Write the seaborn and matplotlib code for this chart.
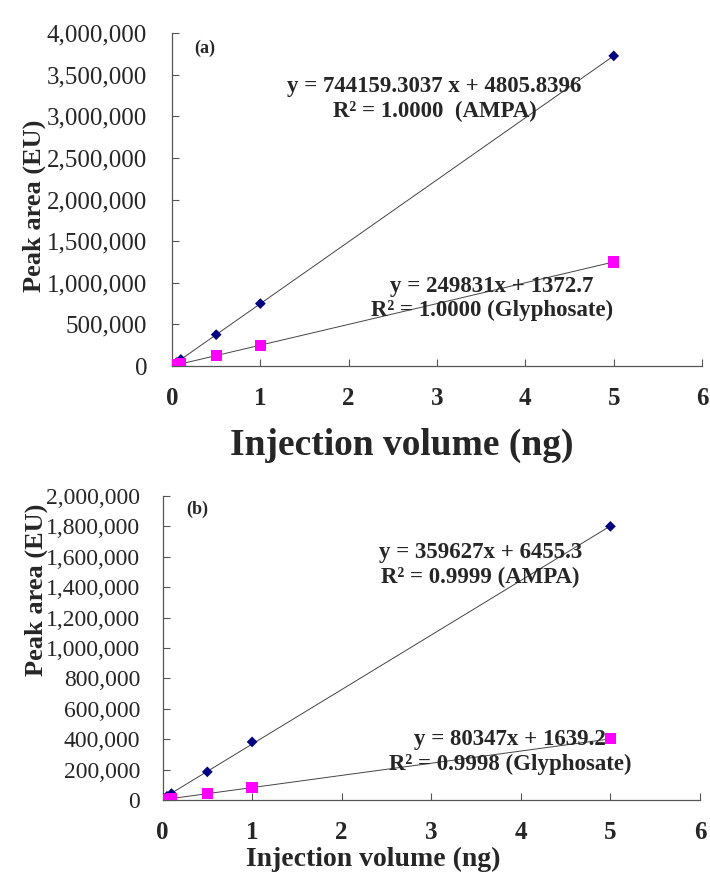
import numpy as np
import pandas as pd
import matplotlib.pyplot as plt
import seaborn as sns

sns.set_style("ticks")
plt.rcParams['font.family'] = ['Liberation Serif', 'DejaVu Serif']

# injection volumes (ng)
volume = [0.01, 0.05, 0.1, 0.5, 1, 5]

# panel (a)
ampa_a = [12000, 42000, 79000, 377000, 750000, 3725000]
gly_a = [3500, 14000, 26000, 125000, 250000, 1250000]
# panel (b)
ampa_b = [9000, 24000, 42000, 185000, 382000, 1800000]
gly_b = [2500, 5500, 9500, 41000, 82000, 402000]

eq_a = ["y = 744159.3037 x + 4805.8396\nR\u00b2 = 1.0000  (AMPA)",
        "y = 249831x + 1372.7\nR\u00b2 = 1.0000 (Glyphosate)"]
eq_b = ["y = 359627x + 6455.3\nR\u00b2 = 0.9999 (AMPA)",
        "y = 80347x + 1639.2\nR\u00b2 = 0.9998 (Glyphosate)"]

fig = plt.figure(figsize=(7.1, 8.82), dpi=100)
ax1 = fig.add_axes([0.2423, 0.585, 0.7465, 0.3776])
ax2 = fig.add_axes([0.2289, 0.093, 0.757, 0.3447])


def draw(ax, ampa, gly, ymax, ystep, ysize, ypad, eqs, eq_pos, tag, tag_pos):
    df = pd.DataFrame({"x": volume * 2, "y": ampa + gly,
                       "cmp": ["AMPA"] * len(volume) + ["Glyphosate"] * len(volume)})
    # trend lines
    xs = np.array([0, 5])
    for vals in (ampa, gly):
        k, b = np.polyfit(volume, vals, 1)
        ax.plot(xs, k * xs + b, color='#444444', lw=0.7, zorder=1)
    sns.scatterplot(data=df, x="x", y="y", hue="cmp", style="cmp",
                    markers={"AMPA": "D", "Glyphosate": "s"},
                    palette={"AMPA": "#000080", "Glyphosate": "#FF00FF"},
                    legend=False, ax=ax, edgecolor='none', zorder=3,
                    size="cmp", sizes={"AMPA": 30, "Glyphosate": 65})
    ax.set_xlim(0, 6)
    ax.set_ylim(0, ymax)
    ax.set_xticks(range(7))
    ax.set_yticks(np.arange(0, ymax + 1, ystep))
    ax.yaxis.set_major_formatter(plt.FuncFormatter(lambda v, p: f"{int(v):,}"))
    ax.tick_params(axis='y', direction='in', labelsize=ysize, length=5, color='#555555', pad=ypad)
    ax.tick_params(axis='x', direction='in', labelsize=18, length=5, color='#555555', pad=15)
    for lab in ax.get_xticklabels():
        lab.set_fontweight('bold')
    sns.despine(ax=ax)
    for s in ('left', 'bottom'):
        ax.spines[s].set_color('#555555')
        ax.spines[s].set_linewidth(0.9)
    for t, (px, py) in zip(eqs, eq_pos):
        ax.text(px, py, t, fontsize=16.5, fontweight='bold', ha='center', va='center',
                linespacing=1.2)
    ax.text(tag_pos[0], tag_pos[1], tag, fontsize=13, fontweight='bold', ha='center', va='center')


draw(ax1, ampa_a, gly_a, 4000000, 500000, 18, 18, eq_a,
     [(2.97, 3207000), (3.62, 811000)], "(a)", (0.374, 3820000))
ax1.set_xlabel("Injection volume (ng)", fontsize=27, fontweight='bold')
ax1.set_ylabel("Peak area (EU)", fontsize=19, fontweight='bold')
ax1.xaxis.set_label_coords(0.434, -0.185)
ax1.yaxis.set_label_coords(-0.238, 0.48)

draw(ax2, ampa_b, gly_b, 2000000, 200000, 17, 16, eq_b,
     [(3.55, 1546000), (3.88, 316000)], "(b)", (0.385, 1914000))
ax2.set_xlabel("Injection volume (ng)", fontsize=20, fontweight='bold')
ax2.set_ylabel("Peak area (EU)", fontsize=19, fontweight='bold')
ax2.xaxis.set_label_coords(0.393, -0.155)
ax2.yaxis.set_label_coords(-0.213, 0.69)

fig.savefig("out.png", dpi=100)
